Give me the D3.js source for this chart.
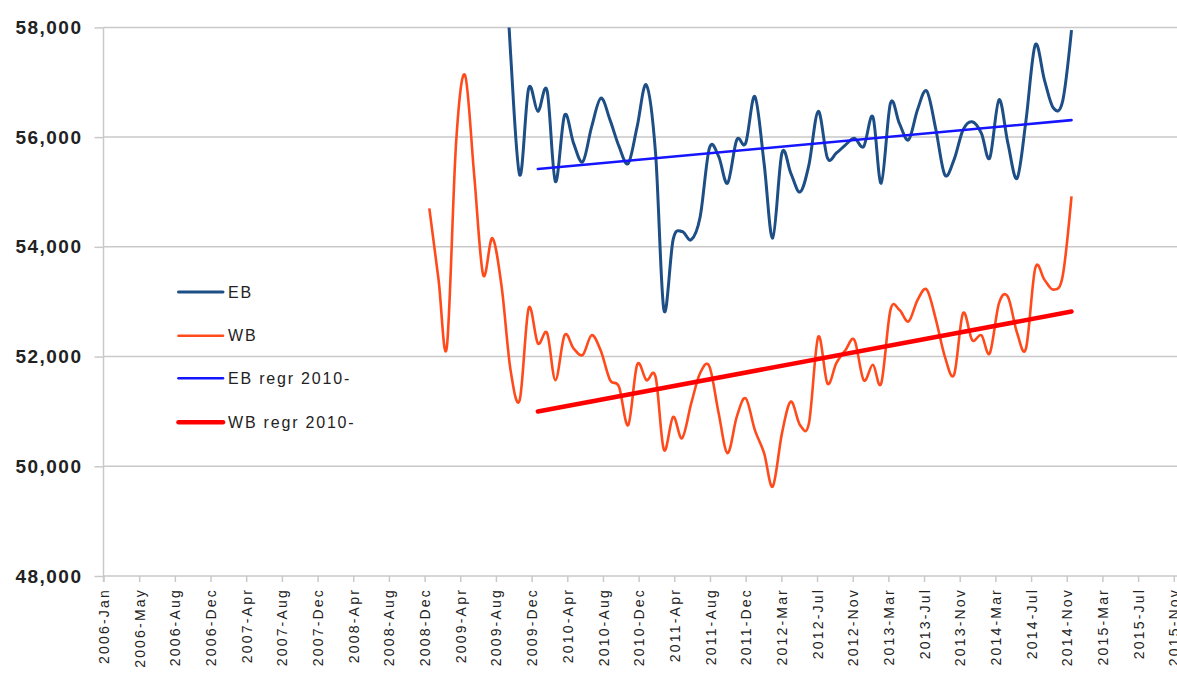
<!DOCTYPE html>
<html><head><meta charset="utf-8">
<script src="https://cdn.jsdelivr.net/npm/d3@7"></script>
<style>
body{margin:0;background:#fff}
svg{display:block}
text{font-family:"Liberation Sans",Arial,sans-serif}
</style>
</head><body>
<svg id="chart" width="1177" height="677"></svg>
<script>
// ---- data ----
const seriesNames = ["EB", "WB", "EB regr 2010-", "WB regr 2010-"];
const seriesColors = ["#1d4f86", "#ff4b1c", "#1515ff", "#ff0000"];

const ebStart = "2009-09";   // first monthly point (earlier part is above the axis range)
const ebValues = [60500, 57550, 55310, 56890, 56470, 56850, 55190, 56400, 55890, 55550,
  56190, 56710, 56310, 55830, 55520, 56190, 56950, 55700, 52850, 54130,
  54280, 54130, 54550, 55800, 55650, 55160, 55950, 55890, 56740, 55520,
  54160, 55710, 55340, 55000, 55500, 56470, 55620, 55710, 55860, 55980,
  55830, 56370, 55160, 56620, 56250, 55950, 56500, 56840, 56130, 55310,
  55590, 56130, 56280, 56070, 55620, 56680, 55890, 55250, 56310, 57680,
  57040, 56530, 56650, 57950];

const wbStart = "2009-01";
const wbValues = [54700, 53400, 52180, 55900, 57130, 55300, 53490, 54160, 53280, 51760,
  51210, 52880, 52240, 52430, 51570, 52390, 52150, 52030, 52390, 52100,
  51570, 51450, 50750, 51850, 51570, 51630, 50300, 50900, 50510, 51150,
  51700, 51820, 50970, 50240, 50900, 51240, 50660, 50240, 49630, 50600,
  51180, 50750, 50790, 52360, 51510, 51880, 52120, 52300, 51570, 51850,
  51510, 52850, 52850, 52640, 53030, 53220, 52670, 52000, 51670, 52790,
  52300, 52390, 52060, 52970, 53090, 52430, 52150, 53610, 53400, 53220,
  53460, 54920];

const ebRegrDates = ["2010-01", "2014-12"];
const ebRegrValues = [55420, 56310];
const wbRegrDates = ["2010-01", "2014-12"];
const wbRegrValues = [51000, 52820];

const yTicks = [48000, 50000, 52000, 54000, 56000, 58000];
const xTickFirst = "2006-01-01";
const xTickStepDays = 120;
const xTickLabels = ["2006-Jan", "2006-May", "2006-Aug", "2006-Dec", "2007-Apr", "2007-Aug",
  "2007-Dec", "2008-Apr", "2008-Aug", "2008-Dec", "2009-Apr", "2009-Aug", "2009-Dec",
  "2010-Apr", "2010-Aug", "2010-Dec", "2011-Apr", "2011-Aug", "2011-Dec", "2012-Mar",
  "2012-Jul", "2012-Nov", "2013-Mar", "2013-Jul", "2013-Nov", "2014-Mar", "2014-Jul",
  "2014-Nov", "2015-Mar", "2015-Jul", "2015-Nov"];

// ---- drawing ----
const svg = d3.select("#chart");
const parseMonth = d3.timeParse("%Y-%m");
const parseDay = d3.timeParse("%Y-%m-%d");

const plotLeft = 103.5, plotTop = 27.4, plotBottom = 576, pxPerDay = 0.2973;
const d0 = parseDay("2006-01-01"), d1 = parseDay("2016-01-01");
const x = d3.scaleTime().domain([d0, d1])
  .range([plotLeft, plotLeft + d3.timeDay.count(d0, d1) * pxPerDay]);
const y = d3.scaleLinear().domain([48000, 58000]).range([plotBottom, plotTop]);

const monthly = (start, vals) => vals.map((v, i) => ({date: d3.timeMonth.offset(parseMonth(start), i), value: v}));
const eb = monthly(ebStart, ebValues);
const wb = monthly(wbStart, wbValues);
const ebR = ebRegrDates.map((d, i) => ({date: parseMonth(d), value: ebRegrValues[i]}));
const wbR = wbRegrDates.map((d, i) => ({date: parseMonth(d), value: wbRegrValues[i]}));

const gridColor = "#c9c9c9";

// gridlines
svg.append("g").selectAll("line").data(yTicks.filter(t => t !== 48000)).join("line")
  .attr("x1", plotLeft).attr("x2", 1177)
  .attr("y1", d => y(d)).attr("y2", d => y(d))
  .attr("stroke", gridColor).attr("stroke-width", 1.5);

// y axis
const yAxis = svg.append("g").attr("transform", `translate(${plotLeft},0)`)
  .call(d3.axisLeft(y).tickValues(yTicks).tickFormat(d3.format(",")).tickSize(9).tickPadding(12));
yAxis.select(".domain").attr("stroke", gridColor).attr("stroke-width", 1.5).attr("d", `M0,${plotTop}V${plotBottom + 6}`);
yAxis.selectAll(".tick line").attr("stroke", gridColor).attr("stroke-width", 1.5);
yAxis.selectAll(".tick text").attr("font-size", 19).attr("font-weight", "bold")
  .attr("fill", "#222").style("letter-spacing", "1.5px");

// x axis
const tickDates = xTickLabels.map((_, i) => d3.timeDay.offset(parseDay(xTickFirst), i * xTickStepDays));
const xAxis = svg.append("g").attr("transform", `translate(0,${plotBottom})`)
  .call(d3.axisBottom(x).tickValues(tickDates).tickFormat((d, i) => xTickLabels[i]).tickSize(6));
xAxis.select(".domain").attr("stroke", gridColor).attr("stroke-width", 1.5).attr("d", `M${plotLeft},0H1177`);
xAxis.selectAll(".tick line").attr("stroke", gridColor).attr("stroke-width", 1.5);
xAxis.selectAll(".tick text")
  .attr("transform", "rotate(-90)")
  .attr("text-anchor", "end")
  .attr("x", -12).attr("y", 0).attr("dy", "0.36em")
  .attr("font-size", 14).attr("fill", "#222").style("letter-spacing", "2.2px");

// clip for plot area
svg.append("clipPath").attr("id", "plot").append("rect")
  .attr("x", plotLeft).attr("y", plotTop).attr("width", 1177 - plotLeft).attr("height", plotBottom - plotTop);

const smooth = d3.line().x(d => x(d.date)).y(d => y(d.value)).curve(d3.curveCardinal.tension(0));
const straight = d3.line().x(d => x(d.date)).y(d => y(d.value));

const plot = svg.append("g").attr("clip-path", "url(#plot)");
plot.append("path").datum(wb).attr("d", smooth).attr("fill", "none")
  .attr("stroke", seriesColors[1]).attr("stroke-width", 2.6).attr("stroke-linejoin", "round");
plot.append("path").datum(eb).attr("d", smooth).attr("fill", "none")
  .attr("stroke", seriesColors[0]).attr("stroke-width", 3).attr("stroke-linejoin", "round");
plot.append("path").datum(ebR).attr("d", straight).attr("fill", "none")
  .attr("stroke", seriesColors[2]).attr("stroke-width", 2.6).attr("stroke-linecap", "round");
plot.append("path").datum(wbR).attr("d", straight).attr("fill", "none")
  .attr("stroke", seriesColors[3]).attr("stroke-width", 4.5).attr("stroke-linecap", "round");

// legend
const legendRows = [292, 335.7, 378.3, 422.3];
const legendWidths = [3, 2.6, 2.6, 4.5];
const lg = svg.append("g");
seriesNames.forEach((name, i) => {
  lg.append("line").attr("x1", 178.5).attr("x2", 223).attr("y1", legendRows[i]).attr("y2", legendRows[i])
    .attr("stroke", seriesColors[i]).attr("stroke-width", legendWidths[i]).attr("stroke-linecap", "round");
  lg.append("text").attr("x", 228).attr("y", legendRows[i]).attr("dy", "0.36em")
    .attr("font-size", 16).attr("fill", "#222").style("letter-spacing", "1.8px").text(name);
});
</script>
</body></html>
